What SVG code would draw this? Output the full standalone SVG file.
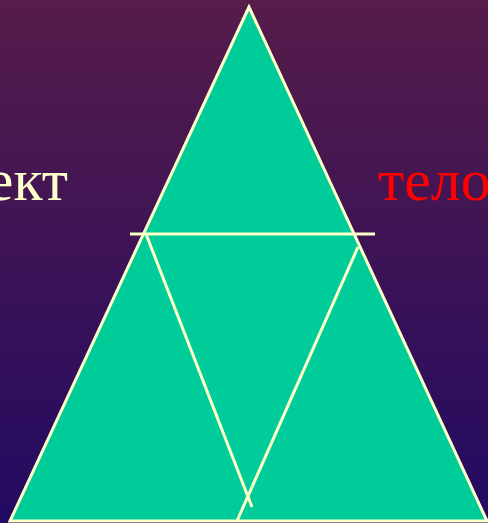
<svg xmlns="http://www.w3.org/2000/svg" width="488" height="523" viewBox="0 0 488 523">
<defs>
<linearGradient id="bg" x1="0" y1="0" x2="0" y2="1">
<stop offset="0" stop-color="#561c4a"/>
<stop offset="1" stop-color="#220a62"/>
</linearGradient>
<style>
.ln{stroke:#ffffc8;stroke-width:3;fill:none;stroke-linecap:butt}
.t{font-family:"Liberation Serif","Times New Roman",serif;font-size:60px}
</style>
</defs>
<rect width="488" height="523" fill="url(#bg)"/>
<g id="triangle">
<polygon points="249,7 10,521 487,521" fill="#00cc99" stroke="#ffffc8" stroke-width="3"/>
</g>
<g id="connectors">
<line class="ln" x1="130" y1="234" x2="375" y2="234"/>
<line class="ln" x1="146" y1="234" x2="252" y2="507"/>
<line class="ln" x1="358" y1="247" x2="237" y2="521"/>
</g>
<g id="label-left"><text class="t" x="68" y="200" text-anchor="end" fill="#ffffcc">ект</text></g>
<g id="label-right"><text class="t" x="378" y="200" fill="#ff0000">тело</text></g>
</svg>
